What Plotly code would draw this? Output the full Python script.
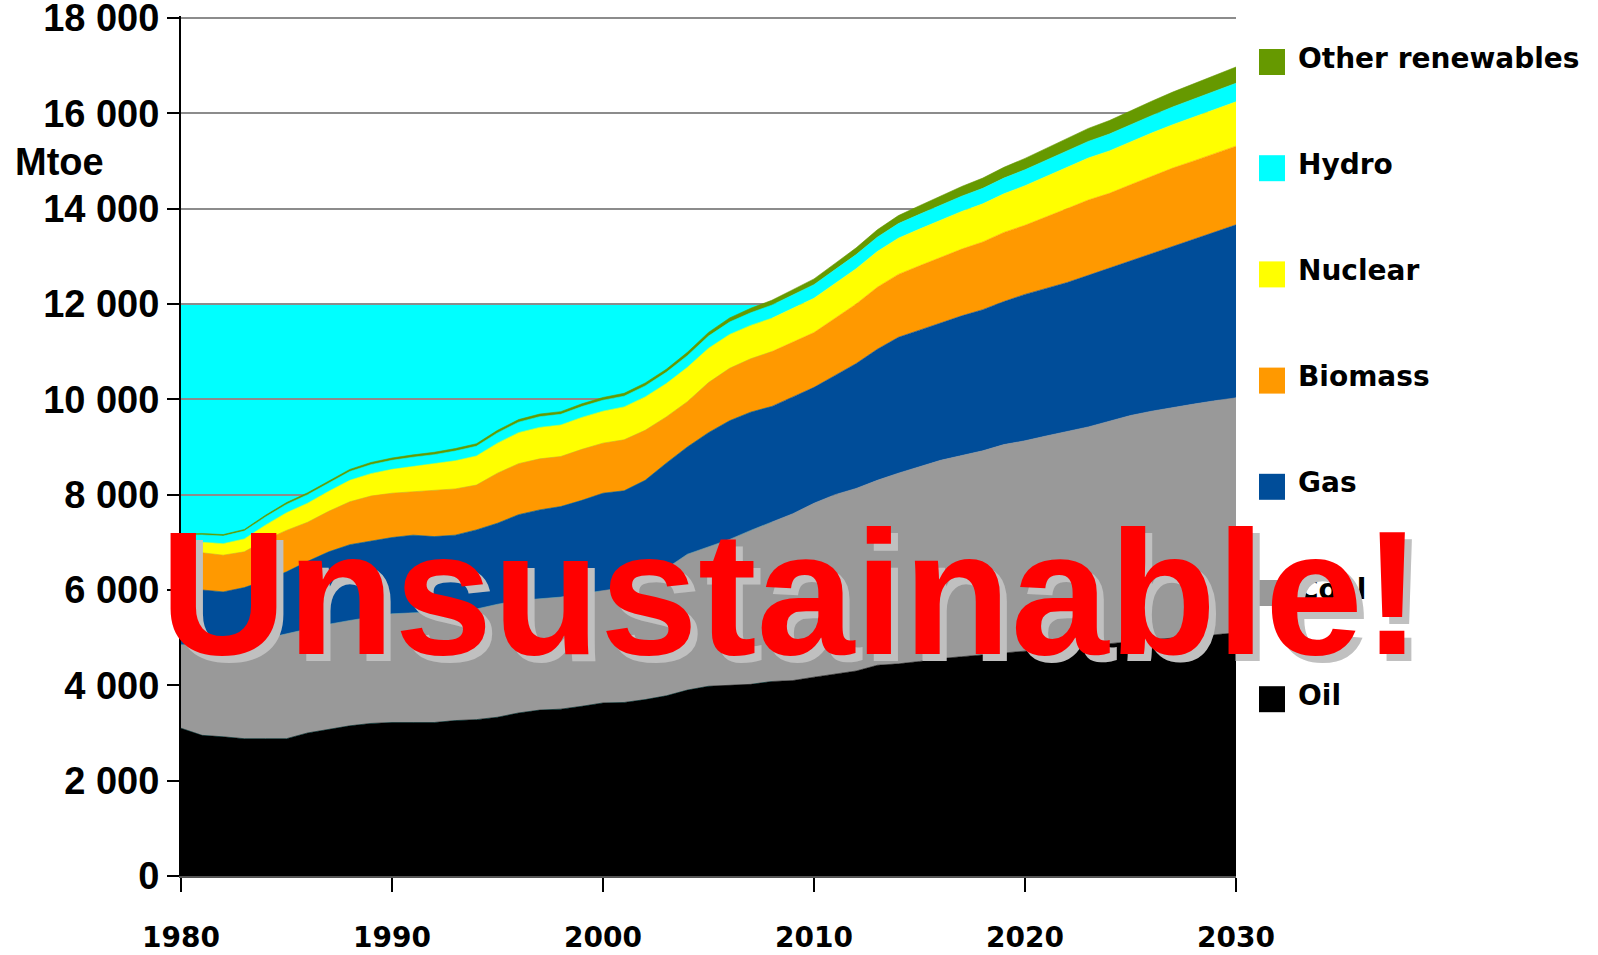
import plotly.graph_objects as go
import numpy as np

years = list(range(1980, 2031))

oil = [3100, 2950, 2920, 2880, 2880, 2880, 3000, 3080, 3150, 3200,
       3220, 3220, 3220, 3260, 3280, 3330, 3420, 3480, 3500, 3560,
       3630, 3640, 3700, 3780, 3900, 3980, 4000, 4020, 4080, 4100,
       4170, 4230, 4300, 4420, 4450, 4500, 4560, 4600, 4640, 4680,
       4720, 4760, 4800, 4840, 4880, 4920, 4960, 5000, 5030, 5060,
       5100]
coal = [1750, 1900, 1930, 2020, 2100, 2200, 2180, 2200, 2210, 2230,
        2280, 2300, 2310, 2290, 2320, 2370, 2360, 2340, 2350, 2360,
        2350, 2410, 2500, 2670, 2850, 2920, 3060, 3230, 3340, 3500,
        3650, 3770, 3830, 3880, 4000, 4080, 4160, 4220, 4280, 4370,
        4410, 4470, 4530, 4580, 4660, 4740, 4790, 4830, 4870, 4910,
        4930]
gas = [1170, 1150, 1110, 1150, 1220, 1300, 1420, 1520, 1590, 1600,
       1600, 1630, 1590, 1600, 1660, 1700, 1800, 1860, 1900, 1960,
       2050, 2030, 2100, 2210, 2250, 2400, 2490, 2480, 2430, 2450,
       2430, 2500, 2620, 2750, 2850, 2870, 2880, 2930, 2960, 3000,
       3070, 3090, 3120, 3180, 3210, 3240, 3300, 3370, 3450, 3530,
       3630]
biomass = [780, 780, 770, 750, 850, 870, 820, 850, 900, 940,
           930, 910, 960, 970, 940, 1050, 1070, 1070, 1050, 1070,
           1050, 1070, 1050, 970, 950, 1050, 1100, 1120, 1150, 1150,
           1150, 1200, 1250, 1300, 1320, 1350, 1380, 1400, 1420, 1450,
           1450, 1500, 1550, 1580, 1570, 1600, 1630, 1650, 1650, 1650,
           1650]
nuclear = [200, 220, 240, 270, 310, 370, 400, 420, 450, 470,
           500, 530, 560, 590, 610, 630, 650, 660, 660, 670,
           670, 690, 700, 700, 720, 720, 710, 700, 700, 710,
           720, 730, 740, 750, 760, 770, 780, 790, 800, 810,
           830, 850, 870, 880, 890, 900, 905, 910, 920, 925,
           930]
hydro = [150, 155, 160, 165, 170, 175, 178, 180, 185, 188,
         190, 195, 198, 205, 205, 215, 220, 225, 225, 228,
         230, 225, 230, 235, 245, 255, 260, 265, 275, 280,
         285, 290, 295, 300, 305, 310, 315, 320, 325, 330,
         335, 340, 345, 350, 355, 360, 365, 372, 378, 385,
         390]
other = [30, 30, 32, 34, 36, 38, 40, 42, 44, 46,
         48, 49, 50, 51, 52, 53, 54, 55, 56, 57,
         58, 60, 62, 65, 70, 78, 86, 94, 102, 110,
         120, 130, 142, 155, 168, 180, 192, 204, 215, 226,
         238, 250, 262, 272, 282, 292, 302, 312, 322, 332,
         340]

series_names = ["Oil", "Coal", "Gas", "Biomass", "Nuclear", "Hydro", "Other renewables"]
series_vals = [oil, coal, gas, biomass, nuclear, hydro, other]
colors = ["#000000", "#999999", "#004D99", "#FF9900", "#FFFF00", "#00FFFF", "#669900"]

y_ticks = list(range(0, 18001, 2000))
y_ticktext = ["0", "2 000", "4 000", "6 000", "8 000", "10 000", "12 000", "14 000", "16 000", "18 000"]
x_ticks = [1980, 1990, 2000, 2010, 2020, 2030]

cyan_level = 12000

# plot area in pixels
L, R, T, B = 181, 362, 16, 79
PH = 955 - T - B
PW = 1598 - L - R
Y_MAX = 18040

fig = go.Figure()
for name, vals, col in zip(series_names, series_vals, colors):
    fig.add_trace(go.Scatter(
        x=years, y=vals, name=name, mode="lines", stackgroup="one",
        line=dict(width=0.6, color=col), fillcolor=col, showlegend=False,
        hoverinfo="skip"))

# cyan background block (artifact in the original) up to 12 000 until total exceeds it
total = np.sum(np.array(series_vals), axis=0)
cross_year = years[int(np.argmax(total >= cyan_level))]

shapes = [dict(type="rect", xref="x", yref="y", x0=years[0], x1=cross_year,
               y0=0, y1=cyan_level, fillcolor="#00FFFF", line=dict(width=0),
               layer="below")]


def py(pix):  # pixel row -> paper y
    return (955 - B - pix) / PH


def px(pix):  # pixel column -> paper x
    return (pix - L) / PW


annotations = []
# custom legend (top to bottom)
legend_first = 62
legend_step = 106.2
for i, (name, col) in enumerate(zip(series_names[::-1], colors[::-1])):
    yc = legend_first + i * legend_step
    shapes.append(dict(type="rect", xref="paper", yref="paper",
                       x0=px(1259), x1=px(1285),
                       y0=py(yc + 13), y1=py(yc - 13),
                       fillcolor=col, line=dict(width=0), layer="above"))
    annotations.append(dict(text=name, xref="paper", yref="paper",
                            x=px(1296), y=py(yc - 4),
                            xanchor="left", yanchor="middle", showarrow=False,
                            font=dict(family="DejaVu Sans", size=28, color="#000000", weight="bold")))

annotations.append(dict(text="Mtoe", xref="paper", yref="paper", x=px(13),
                        y=py(162), xanchor="left", yanchor="middle",
                        showarrow=False,
                        font=dict(family="Liberation Sans", size=38, color="#000000", weight="bold")))

annotations.append(dict(text="Unsustainable!", xref="paper", yref="paper",
                        x=px(791), y=py(593),
                        xanchor="center", yanchor="middle", showarrow=False,
                        font=dict(family="Liberation Sans", size=176, color="#FF0000",
                                  weight="bold", shadow="7px 7px 0px #C0C0C0")))

fig.update_layout(
    width=1598, height=955,
    margin=dict(l=L, r=R, t=T, b=B, autoexpand=False),
    paper_bgcolor="white", plot_bgcolor="white",
    shapes=shapes, annotations=annotations,
    xaxis=dict(range=[1980, 2030], tickvals=x_ticks, showgrid=False,
               showline=True, linecolor="#555555", linewidth=1.5,
               ticks="outside", ticklen=14, tickwidth=2, tickcolor="#000000",
               ticklabelstandoff=22, automargin=False,
               tickfont=dict(family="DejaVu Sans", size=28, color="#000000", weight="bold"),
               zeroline=False),
    yaxis=dict(range=[0, Y_MAX], tickvals=y_ticks, ticktext=y_ticktext,
               showgrid=True, gridcolor="#8C8C8C", gridwidth=2,
               showline=True, linecolor="#000000", linewidth=2,
               ticks="outside", ticklen=12, tickwidth=2, tickcolor="#000000",
               automargin=False, ticklabeloverflow="allow",
               tickfont=dict(family="Liberation Sans", size=38, color="#000000", weight="bold"),
               zeroline=False),
)

fig.write_html("out.html")
